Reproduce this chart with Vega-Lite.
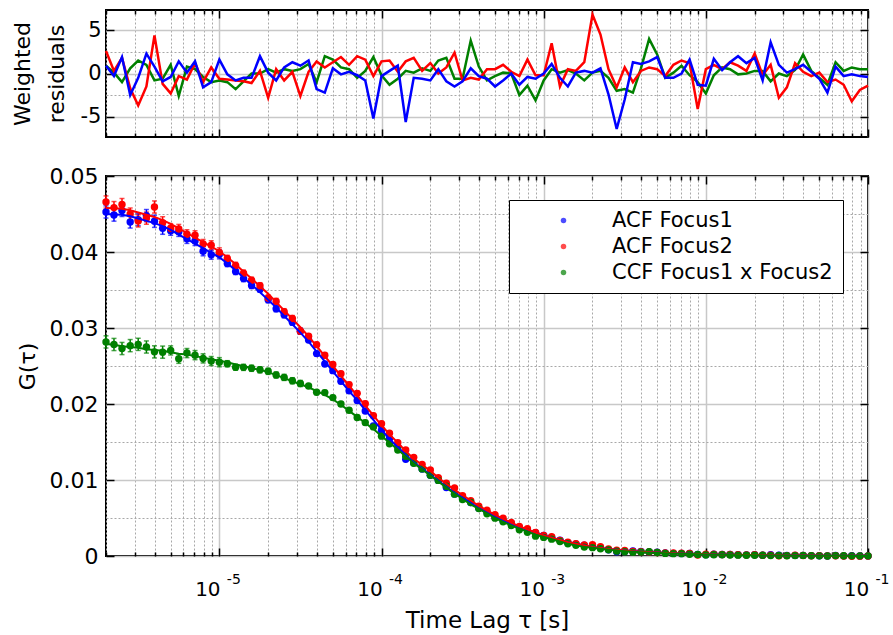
{
  "$schema": "https://vega.github.io/schema/vega-lite/v6.json",
  "padding": {"left": 10, "top": 8, "right": 5, "bottom": 0},
  "config": {
    "font": "DejaVu Sans",
    "view": {"stroke": "#000000", "strokeWidth": 2},
    "axis": {"labelFont": "DejaVu Sans", "titleFont": "DejaVu Sans", "labelColor": "#000000", "titleColor": "#000000", "titleFontWeight": "normal", "tickColor": "#000000", "tickWidth": 1.5, "domain": false, "labelOverlap": false, "labelFlush": false},
    "legend": {"labelFont": "DejaVu Sans"}
  },
  "spacing": 39,
  "bounds": "flush",
  "resolve": {"scale": {"color": "independent"}},
  "datasets": {
    "fcs": [
{"t":2e-6,"s":"A1","g":0.04527,"e":0.0008,"f":0.045,"r":0.9},
{"t":2.24e-6,"s":"A1","g":0.04486,"e":0.0008,"f":0.04495,"r":-0.3},
{"t":2.51e-6,"s":"A1","g":0.04547,"e":0.0008,"f":0.0449,"r":1.9},
{"t":2.82e-6,"s":"A1","g":0.04395,"e":0.0008,"f":0.0447,"r":-2.5},
{"t":3.16e-6,"s":"A1","g":0.04425,"e":0.0008,"f":0.0444,"r":-0.5},
{"t":3.55e-6,"s":"A1","g":0.04479,"e":0.0008,"f":0.0441,"r":2.3},
{"t":3.98e-6,"s":"A1","g":0.04404,"e":0.0008,"f":0.0438,"r":0.8},
{"t":4.47e-6,"s":"A1","g":0.04313,"e":0.0008,"f":0.0434,"r":-0.9},
{"t":5.01e-6,"s":"A1","g":0.0428,"e":0.0006,"f":0.0429,"r":-0.4},
{"t":5.62e-6,"s":"A1","g":0.04265,"e":0.0006,"f":0.0423,"r":1.4},
{"t":6.31e-6,"s":"A1","g":0.04173,"e":0.0006,"f":0.0417,"r":0.1},
{"t":7.08e-6,"s":"A1","g":0.04145,"e":0.0006,"f":0.0411,"r":1.4},
{"t":7.94e-6,"s":"A1","g":0.0401,"e":0.0006,"f":0.0405,"r":-1.6},
{"t":8.91e-6,"s":"A1","g":0.03965,"e":0.0006,"f":0.0399,"r":-1.0},
{"t":1e-5,"s":"A1","g":0.0397,"e":0.0006,"f":0.0393,"r":1.6},
{"t":1.12e-5,"s":"A1","g":0.03848,"e":0.0004,"f":0.0385,"r":-0.1},
{"t":1.26e-5,"s":"A1","g":0.03744,"e":0.0004,"f":0.0376,"r":-0.8},
{"t":1.41e-5,"s":"A1","g":0.0365,"e":0.0004,"f":0.0366,"r":-0.5},
{"t":1.58e-5,"s":"A1","g":0.0356,"e":0.0004,"f":0.0357,"r":-0.5},
{"t":1.78e-5,"s":"A1","g":0.0351,"e":0.0004,"f":0.0347,"r":2.0},
{"t":2e-5,"s":"A1","g":0.03372,"e":0.0004,"f":0.0337,"r":0.1},
{"t":2.24e-5,"s":"A1","g":0.03254,"e":0.0004,"f":0.0327,"r":-0.8},
{"t":2.51e-5,"s":"A1","g":0.03174,"e":0.0004,"f":0.0316,"r":0.7},
{"t":2.82e-5,"s":"A1","g":0.03076,"e":0.0004,"f":0.0305,"r":1.3},
{"t":3.16e-5,"s":"A1","g":0.02958,"e":0.0004,"f":0.0294,"r":0.9},
{"t":3.55e-5,"s":"A1","g":0.02843,"e":0.0003,"f":0.0282,"r":1.5},
{"t":3.98e-5,"s":"A1","g":0.02663,"e":0.0003,"f":0.0269,"r":-1.8},
{"t":4.47e-5,"s":"A1","g":0.02527,"e":0.0003,"f":0.0256,"r":-2.2},
{"t":5.01e-5,"s":"A1","g":0.02439,"e":0.0003,"f":0.0243,"r":0.6},
{"t":5.62e-5,"s":"A1","g":0.02299,"e":0.0003,"f":0.023,"r":-0.1},
{"t":6.31e-5,"s":"A1","g":0.02173,"e":0.0003,"f":0.0217,"r":0.2},
{"t":7.08e-5,"s":"A1","g":0.02047,"e":0.0003,"f":0.0205,"r":-0.2},
{"t":7.94e-5,"s":"A1","g":0.01908,"e":0.0003,"f":0.0192,"r":-0.8},
{"t":8.91e-5,"s":"A1","g":0.01712,"e":0.0003,"f":0.0179,"r":-5.2},
{"t":1e-4,"s":"A1","g":0.01656,"e":0.0003,"f":0.0166,"r":-0.3},
{"t":1.12e-4,"s":"A1","g":0.01543,"e":0.0002,"f":0.0154,"r":0.3},
{"t":1.26e-4,"s":"A1","g":0.01439,"e":0.0002,"f":0.0143,"r":0.9},
{"t":1.41e-4,"s":"A1","g":0.01274,"e":0.0002,"f":0.0133,"r":-5.6},
{"t":1.58e-4,"s":"A1","g":0.01225,"e":0.0002,"f":0.0123,"r":-0.5},
{"t":1.78e-4,"s":"A1","g":0.01144,"e":0.0002,"f":0.0115,"r":-0.6},
{"t":2e-4,"s":"A1","g":0.01062,"e":0.0002,"f":0.0107,"r":-0.8},
{"t":2.24e-4,"s":"A1","g":0.00995,"e":0.0002,"f":0.0099,"r":0.5},
{"t":2.51e-4,"s":"A1","g":0.00901,"e":0.0002,"f":0.0091,"r":-0.9},
{"t":2.82e-4,"s":"A1","g":0.00815,"e":0.0002,"f":0.0083,"r":-1.5},
{"t":3.16e-4,"s":"A1","g":0.00761,"e":0.0002,"f":0.0077,"r":-0.9},
{"t":3.55e-4,"s":"A1","g":0.00704,"e":0.00012,"f":0.007,"r":0.6},
{"t":3.98e-4,"s":"A1","g":0.00628,"e":0.00012,"f":0.0063,"r":-0.3},
{"t":4.47e-4,"s":"A1","g":0.00576,"e":0.00012,"f":0.0058,"r":-0.6},
{"t":5.01e-4,"s":"A1","g":0.00511,"e":0.00012,"f":0.0052,"r":-1.5},
{"t":5.62e-4,"s":"A1","g":0.00465,"e":0.00012,"f":0.0047,"r":-0.8},
{"t":6.31e-4,"s":"A1","g":0.0043,"e":0.00012,"f":0.0043,"r":0.0},
{"t":7.08e-4,"s":"A1","g":0.00372,"e":0.00012,"f":0.0038,"r":-1.3},
{"t":7.94e-4,"s":"A1","g":0.00338,"e":0.00012,"f":0.0034,"r":-0.4},
{"t":8.91e-4,"s":"A1","g":0.00306,"e":0.00012,"f":0.0031,"r":-0.6},
{"t":1e-3,"s":"A1","g":0.0027,"e":0.00012,"f":0.0027,"r":0.0},
{"t":1.12e-3,"s":"A1","g":0.00244,"e":0.00008,"f":0.0024,"r":1.1},
{"t":1.26e-3,"s":"A1","g":0.00208,"e":0.00008,"f":0.0021,"r":-0.5},
{"t":1.41e-3,"s":"A1","g":0.00174,"e":0.00008,"f":0.0018,"r":-1.5},
{"t":1.58e-3,"s":"A1","g":0.0016,"e":0.00008,"f":0.0016,"r":0.1},
{"t":1.78e-3,"s":"A1","g":0.00141,"e":0.00008,"f":0.0014,"r":0.3},
{"t":2e-3,"s":"A1","g":0.0012,"e":0.00008,"f":0.0012,"r":0.1},
{"t":2.24e-3,"s":"A1","g":0.00107,"e":0.00008,"f":0.00105,"r":0.6},
{"t":2.51e-3,"s":"A1","g":0.00082,"e":0.00008,"f":0.00092,"r":-2.4},
{"t":2.82e-3,"s":"A1","g":0.00055,"e":0.00008,"f":0.00081,"r":-6.4},
{"t":3.16e-3,"s":"A1","g":0.00059,"e":0.00008,"f":0.00071,"r":-3.0},
{"t":3.55e-3,"s":"A1","g":0.00067,"e":0.00006,"f":0.00063,"r":1.3},
{"t":3.98e-3,"s":"A1","g":0.00059,"e":0.00006,"f":0.00056,"r":1.1},
{"t":4.47e-3,"s":"A1","g":0.00054,"e":0.00006,"f":0.0005,"r":1.4},
{"t":5.01e-3,"s":"A1","g":0.00051,"e":0.00006,"f":0.00045,"r":1.9},
{"t":5.62e-3,"s":"A1","g":0.00039,"e":0.00006,"f":0.0004,"r":-0.5},
{"t":6.31e-3,"s":"A1","g":0.00035,"e":0.00006,"f":0.00036,"r":-0.5},
{"t":7.08e-3,"s":"A1","g":0.00032,"e":0.00006,"f":0.00032,"r":0.0},
{"t":7.94e-3,"s":"A1","g":0.00033,"e":0.00006,"f":0.00028,"r":1.6},
{"t":8.91e-3,"s":"A1","g":0.00021,"e":0.00006,"f":0.00025,"r":-1.3},
{"t":1e-2,"s":"A1","g":0.00018,"e":0.00006,"f":0.00022,"r":-1.4},
{"t":1.12e-2,"s":"A1","g":0.00023,"e":0.00004,"f":0.0002,"r":1.7},
{"t":1.26e-2,"s":"A1","g":0.00019,"e":0.00004,"f":0.00018,"r":0.4},
{"t":1.41e-2,"s":"A1","g":0.00019,"e":0.00004,"f":0.00016,"r":1.3},
{"t":1.58e-2,"s":"A1","g":0.00018,"e":0.00004,"f":0.00014,"r":2.0},
{"t":1.78e-2,"s":"A1","g":0.00015,"e":0.00004,"f":0.00013,"r":1.2},
{"t":2e-2,"s":"A1","g":0.00016,"e":0.00004,"f":0.00012,"r":1.8},
{"t":2.24e-2,"s":"A1","g":0.00009,"e":0.00004,"f":0.00011,"r":-0.8},
{"t":2.51e-2,"s":"A1","g":0.00017,"e":0.00004,"f":0.0001,"r":3.6},
{"t":2.82e-2,"s":"A1","g":0.00011,"e":0.00004,"f":0.00009,"r":1.0},
{"t":3.16e-2,"s":"A1","g":0.00008,"e":0.00004,"f":0.00008,"r":0.1},
{"t":3.55e-2,"s":"A1","g":0.00008,"e":0.00004,"f":0.00007,"r":0.5},
{"t":3.98e-2,"s":"A1","g":0.00008,"e":0.00004,"f":0.00006,"r":1.0},
{"t":4.47e-2,"s":"A1","g":0.00005,"e":0.00004,"f":0.00005,"r":0.2},
{"t":5.01e-2,"s":"A1","g":0.00004,"e":0.00004,"f":0.00005,"r":-0.6},
{"t":5.62e-2,"s":"A1","g":0.0,"e":0.00004,"f":0.00004,"r":-2.2},
{"t":6.31e-2,"s":"A1","g":0.00006,"e":0.00004,"f":0.00004,"r":0.8},
{"t":7.08e-2,"s":"A1","g":0.00002,"e":0.00004,"f":0.00003,"r":-0.3},
{"t":7.94e-2,"s":"A1","g":0.00003,"e":0.00004,"f":0.00003,"r":-0.1},
{"t":8.91e-2,"s":"A1","g":0.00001,"e":0.00004,"f":0.00002,"r":-0.3},
{"t":0.1,"s":"A1","g":0.00001,"e":0.00004,"f":0.00002,"r":-0.4},
{"t":2e-6,"s":"A2","g":0.04658,"e":0.0008,"f":0.0458,"r":2.6},
{"t":2.24e-6,"s":"A2","g":0.04584,"e":0.0008,"f":0.04575,"r":0.3},
{"t":2.51e-6,"s":"A2","g":0.04624,"e":0.0008,"f":0.0457,"r":1.8},
{"t":2.82e-6,"s":"A2","g":0.04499,"e":0.0008,"f":0.0455,"r":-1.7},
{"t":3.16e-6,"s":"A2","g":0.04409,"e":0.0008,"f":0.0452,"r":-3.7},
{"t":3.55e-6,"s":"A2","g":0.04445,"e":0.0008,"f":0.0449,"r":-1.5},
{"t":3.98e-6,"s":"A2","g":0.04592,"e":0.0008,"f":0.0446,"r":4.4},
{"t":4.47e-6,"s":"A2","g":0.04384,"e":0.0008,"f":0.0442,"r":-1.2},
{"t":5.01e-6,"s":"A2","g":0.04313,"e":0.0006,"f":0.0437,"r":-2.3},
{"t":5.62e-6,"s":"A2","g":0.04303,"e":0.0006,"f":0.0431,"r":-0.3},
{"t":6.31e-6,"s":"A2","g":0.04233,"e":0.0006,"f":0.0425,"r":-0.7},
{"t":7.08e-6,"s":"A2","g":0.0422,"e":0.0006,"f":0.0419,"r":1.2},
{"t":7.94e-6,"s":"A2","g":0.04105,"e":0.0006,"f":0.0413,"r":-1.0},
{"t":8.91e-6,"s":"A2","g":0.04088,"e":0.0006,"f":0.0407,"r":0.7},
{"t":1e-5,"s":"A2","g":0.03995,"e":0.0006,"f":0.0401,"r":-0.6},
{"t":1.12e-5,"s":"A2","g":0.03916,"e":0.0004,"f":0.0393,"r":-0.7},
{"t":1.26e-5,"s":"A2","g":0.03824,"e":0.0004,"f":0.0384,"r":-0.8},
{"t":1.41e-5,"s":"A2","g":0.03722,"e":0.0004,"f":0.0374,"r":-0.9},
{"t":1.58e-5,"s":"A2","g":0.03628,"e":0.0004,"f":0.0365,"r":-1.1},
{"t":1.78e-5,"s":"A2","g":0.03556,"e":0.0004,"f":0.0355,"r":0.3},
{"t":2e-5,"s":"A2","g":0.03394,"e":0.0004,"f":0.0345,"r":-2.8},
{"t":2.24e-5,"s":"A2","g":0.0335,"e":0.0004,"f":0.0334,"r":0.5},
{"t":2.51e-5,"s":"A2","g":0.03214,"e":0.0004,"f":0.0323,"r":-0.8},
{"t":2.82e-5,"s":"A2","g":0.03124,"e":0.0004,"f":0.0312,"r":0.2},
{"t":3.16e-5,"s":"A2","g":0.02958,"e":0.0004,"f":0.0301,"r":-2.6},
{"t":3.55e-5,"s":"A2","g":0.02893,"e":0.0003,"f":0.0289,"r":0.2},
{"t":3.98e-5,"s":"A2","g":0.02781,"e":0.0003,"f":0.0276,"r":1.4},
{"t":4.47e-5,"s":"A2","g":0.02641,"e":0.0003,"f":0.0263,"r":0.7},
{"t":5.01e-5,"s":"A2","g":0.0252,"e":0.0003,"f":0.025,"r":1.3},
{"t":5.62e-5,"s":"A2","g":0.02399,"e":0.0003,"f":0.0237,"r":1.9},
{"t":6.31e-5,"s":"A2","g":0.02255,"e":0.0003,"f":0.0224,"r":1.0},
{"t":7.08e-5,"s":"A2","g":0.0214,"e":0.0003,"f":0.0211,"r":2.0},
{"t":7.94e-5,"s":"A2","g":0.02004,"e":0.0003,"f":0.0198,"r":1.6},
{"t":8.91e-5,"s":"A2","g":0.01846,"e":0.0003,"f":0.0185,"r":-0.3},
{"t":1e-4,"s":"A2","g":0.01741,"e":0.0003,"f":0.0172,"r":1.4},
{"t":1.12e-4,"s":"A2","g":0.01615,"e":0.0002,"f":0.016,"r":1.5},
{"t":1.26e-4,"s":"A2","g":0.01492,"e":0.0002,"f":0.0149,"r":0.2},
{"t":1.41e-4,"s":"A2","g":0.01394,"e":0.0002,"f":0.0138,"r":1.4},
{"t":1.58e-4,"s":"A2","g":0.01298,"e":0.0002,"f":0.0128,"r":1.8},
{"t":1.78e-4,"s":"A2","g":0.01203,"e":0.0002,"f":0.012,"r":0.3},
{"t":2e-4,"s":"A2","g":0.01132,"e":0.0002,"f":0.0112,"r":1.2},
{"t":2.24e-4,"s":"A2","g":0.0103,"e":0.0002,"f":0.0103,"r":0.0},
{"t":2.51e-4,"s":"A2","g":0.00957,"e":0.0002,"f":0.0095,"r":0.7},
{"t":2.82e-4,"s":"A2","g":0.00894,"e":0.0002,"f":0.0087,"r":2.4},
{"t":3.16e-4,"s":"A2","g":0.00792,"e":0.0002,"f":0.008,"r":-0.8},
{"t":3.55e-4,"s":"A2","g":0.00727,"e":0.00012,"f":0.0073,"r":-0.5},
{"t":3.98e-4,"s":"A2","g":0.00656,"e":0.00012,"f":0.0066,"r":-0.7},
{"t":4.47e-4,"s":"A2","g":0.00603,"e":0.00012,"f":0.006,"r":0.5},
{"t":5.01e-4,"s":"A2","g":0.00543,"e":0.00012,"f":0.0054,"r":0.5},
{"t":5.62e-4,"s":"A2","g":0.00496,"e":0.00012,"f":0.0049,"r":1.0},
{"t":6.31e-4,"s":"A2","g":0.00441,"e":0.00012,"f":0.0044,"r":0.2},
{"t":7.08e-4,"s":"A2","g":0.00388,"e":0.00012,"f":0.0039,"r":-0.3},
{"t":7.94e-4,"s":"A2","g":0.0036,"e":0.00012,"f":0.0035,"r":1.6},
{"t":8.91e-4,"s":"A2","g":0.00309,"e":0.00012,"f":0.0031,"r":-0.2},
{"t":1e-3,"s":"A2","g":0.00269,"e":0.00012,"f":0.0027,"r":-0.2},
{"t":1.12e-3,"s":"A2","g":0.00254,"e":0.00008,"f":0.0024,"r":3.5},
{"t":1.26e-3,"s":"A2","g":0.00204,"e":0.00008,"f":0.0021,"r":-1.5},
{"t":1.41e-3,"s":"A2","g":0.00182,"e":0.00008,"f":0.0018,"r":0.5},
{"t":1.58e-3,"s":"A2","g":0.00161,"e":0.00008,"f":0.0016,"r":0.3},
{"t":1.78e-3,"s":"A2","g":0.00145,"e":0.00008,"f":0.0014,"r":1.3},
{"t":2e-3,"s":"A2","g":0.00147,"e":0.00008,"f":0.0012,"r":6.8},
{"t":2.24e-3,"s":"A2","g":0.00123,"e":0.00008,"f":0.00105,"r":4.5},
{"t":2.51e-3,"s":"A2","g":0.00094,"e":0.00008,"f":0.00092,"r":0.5},
{"t":2.82e-3,"s":"A2","g":0.00075,"e":0.00008,"f":0.00081,"r":-1.6},
{"t":3.16e-3,"s":"A2","g":0.00074,"e":0.00008,"f":0.00071,"r":0.7},
{"t":3.55e-3,"s":"A2","g":0.0006,"e":0.00006,"f":0.00063,"r":-1.0},
{"t":3.98e-3,"s":"A2","g":0.00057,"e":0.00006,"f":0.00056,"r":0.3},
{"t":4.47e-3,"s":"A2","g":0.00052,"e":0.00006,"f":0.0005,"r":0.7},
{"t":5.01e-3,"s":"A2","g":0.00047,"e":0.00006,"f":0.00045,"r":0.5},
{"t":5.62e-3,"s":"A2","g":0.00039,"e":0.00006,"f":0.0004,"r":-0.3},
{"t":6.31e-3,"s":"A2","g":0.00039,"e":0.00006,"f":0.00036,"r":1.0},
{"t":7.08e-3,"s":"A2","g":0.00037,"e":0.00006,"f":0.00032,"r":1.5},
{"t":7.94e-3,"s":"A2","g":0.00032,"e":0.00006,"f":0.00028,"r":1.2},
{"t":8.91e-3,"s":"A2","g":0.00013,"e":0.00006,"f":0.00025,"r":-4.1},
{"t":1e-2,"s":"A2","g":0.00024,"e":0.00006,"f":0.00022,"r":0.5},
{"t":1.12e-2,"s":"A2","g":0.00022,"e":0.00004,"f":0.0002,"r":1.0},
{"t":1.26e-2,"s":"A2","g":0.00019,"e":0.00004,"f":0.00018,"r":0.5},
{"t":1.41e-2,"s":"A2","g":0.00019,"e":0.00004,"f":0.00016,"r":1.3},
{"t":1.58e-2,"s":"A2","g":0.00016,"e":0.00004,"f":0.00014,"r":0.9},
{"t":1.78e-2,"s":"A2","g":0.00014,"e":0.00004,"f":0.00013,"r":0.3},
{"t":2e-2,"s":"A2","g":0.00017,"e":0.00004,"f":0.00012,"r":2.3},
{"t":2.24e-2,"s":"A2","g":0.00011,"e":0.00004,"f":0.00011,"r":-0.2},
{"t":2.51e-2,"s":"A2","g":0.00012,"e":0.00004,"f":0.0001,"r":1.0},
{"t":2.82e-2,"s":"A2","g":0.00003,"e":0.00004,"f":0.00009,"r":-2.8},
{"t":3.16e-2,"s":"A2","g":0.00005,"e":0.00004,"f":0.00008,"r":-1.6},
{"t":3.55e-2,"s":"A2","g":0.00009,"e":0.00004,"f":0.00007,"r":1.2},
{"t":3.98e-2,"s":"A2","g":0.00006,"e":0.00004,"f":0.00006,"r":0.2},
{"t":4.47e-2,"s":"A2","g":0.00004,"e":0.00004,"f":0.00005,"r":-0.3},
{"t":5.01e-2,"s":"A2","g":0.00005,"e":0.00004,"f":0.00005,"r":0.1},
{"t":5.62e-2,"s":"A2","g":0.00002,"e":0.00004,"f":0.00004,"r":-1.0},
{"t":6.31e-2,"s":"A2","g":0.00003,"e":0.00004,"f":0.00004,"r":-0.7},
{"t":7.08e-2,"s":"A2","g":0.0,"e":0.00004,"f":0.00003,"r":-1.3},
{"t":7.94e-2,"s":"A2","g":-0.00003,"e":0.00004,"f":0.00003,"r":-3.2},
{"t":8.91e-2,"s":"A2","g":-0.00002,"e":0.00004,"f":0.00002,"r":-1.9},
{"t":0.1,"s":"A2","g":-0.00001,"e":0.00004,"f":0.00002,"r":-1.4},
{"t":2e-6,"s":"C","g":0.02817,"e":0.0008,"f":0.0279,"r":0.9},
{"t":2.24e-6,"s":"C","g":0.02783,"e":0.0008,"f":0.0278,"r":0.1},
{"t":2.51e-6,"s":"C","g":0.0273,"e":0.0008,"f":0.0276,"r":-1.0},
{"t":2.82e-6,"s":"C","g":0.02768,"e":0.0008,"f":0.0275,"r":0.6},
{"t":3.16e-6,"s":"C","g":0.02785,"e":0.0008,"f":0.0274,"r":1.5},
{"t":3.55e-6,"s":"C","g":0.0275,"e":0.0008,"f":0.0272,"r":1.0},
{"t":3.98e-6,"s":"C","g":0.02686,"e":0.0008,"f":0.0271,"r":-0.8},
{"t":4.47e-6,"s":"C","g":0.02682,"e":0.0008,"f":0.027,"r":-0.6},
{"t":5.01e-6,"s":"C","g":0.02705,"e":0.0006,"f":0.0268,"r":1.0},
{"t":5.62e-6,"s":"C","g":0.02595,"e":0.0006,"f":0.0266,"r":-2.6},
{"t":6.31e-6,"s":"C","g":0.0267,"e":0.0006,"f":0.0265,"r":0.8},
{"t":7.08e-6,"s":"C","g":0.02643,"e":0.0006,"f":0.0263,"r":0.5},
{"t":7.94e-6,"s":"C","g":0.026,"e":0.0006,"f":0.0261,"r":-0.4},
{"t":8.91e-6,"s":"C","g":0.02565,"e":0.0006,"f":0.0259,"r":-1.0},
{"t":1e-5,"s":"C","g":0.0255,"e":0.0006,"f":0.0257,"r":-0.8},
{"t":1.12e-5,"s":"C","g":0.0253,"e":0.0004,"f":0.0255,"r":-1.0},
{"t":1.26e-5,"s":"C","g":0.02484,"e":0.0004,"f":0.0252,"r":-1.8},
{"t":1.41e-5,"s":"C","g":0.02482,"e":0.0004,"f":0.025,"r":-0.9},
{"t":1.58e-5,"s":"C","g":0.0247,"e":0.0004,"f":0.0247,"r":0.0},
{"t":1.78e-5,"s":"C","g":0.0245,"e":0.0004,"f":0.0245,"r":0.0},
{"t":2e-5,"s":"C","g":0.0243,"e":0.0004,"f":0.0242,"r":0.5},
{"t":2.24e-5,"s":"C","g":0.02382,"e":0.0004,"f":0.0238,"r":0.1},
{"t":2.51e-5,"s":"C","g":0.0235,"e":0.0004,"f":0.0234,"r":0.5},
{"t":2.82e-5,"s":"C","g":0.02306,"e":0.0004,"f":0.023,"r":0.3},
{"t":3.16e-5,"s":"C","g":0.0227,"e":0.0004,"f":0.0226,"r":0.5},
{"t":3.55e-5,"s":"C","g":0.02237,"e":0.0003,"f":0.0222,"r":1.1},
{"t":3.98e-5,"s":"C","g":0.02155,"e":0.0003,"f":0.0217,"r":-1.0},
{"t":4.47e-5,"s":"C","g":0.0215,"e":0.0003,"f":0.0212,"r":2.0},
{"t":5.01e-5,"s":"C","g":0.02084,"e":0.0003,"f":0.0206,"r":1.6},
{"t":5.62e-5,"s":"C","g":0.02001,"e":0.0003,"f":0.0199,"r":0.7},
{"t":6.31e-5,"s":"C","g":0.01918,"e":0.0003,"f":0.0191,"r":0.5},
{"t":7.08e-5,"s":"C","g":0.01823,"e":0.0003,"f":0.0183,"r":-0.5},
{"t":7.94e-5,"s":"C","g":0.01755,"e":0.0003,"f":0.0175,"r":0.3},
{"t":8.91e-5,"s":"C","g":0.01699,"e":0.0003,"f":0.0167,"r":1.9},
{"t":1e-4,"s":"C","g":0.01577,"e":0.0003,"f":0.0158,"r":-0.2},
{"t":1.12e-4,"s":"C","g":0.01477,"e":0.0002,"f":0.0149,"r":-1.3},
{"t":1.26e-4,"s":"C","g":0.01394,"e":0.0002,"f":0.014,"r":-0.6},
{"t":1.41e-4,"s":"C","g":0.01313,"e":0.0002,"f":0.0131,"r":0.3},
{"t":1.58e-4,"s":"C","g":0.01221,"e":0.0002,"f":0.0122,"r":0.1},
{"t":1.78e-4,"s":"C","g":0.01146,"e":0.0002,"f":0.0114,"r":0.6},
{"t":2e-4,"s":"C","g":0.01063,"e":0.0002,"f":0.0106,"r":0.3},
{"t":2.24e-4,"s":"C","g":0.00995,"e":0.0002,"f":0.0098,"r":1.5},
{"t":2.51e-4,"s":"C","g":0.00918,"e":0.0002,"f":0.009,"r":1.8},
{"t":2.82e-4,"s":"C","g":0.00814,"e":0.0002,"f":0.0082,"r":-0.6},
{"t":3.16e-4,"s":"C","g":0.00744,"e":0.0002,"f":0.0075,"r":-0.6},
{"t":3.55e-4,"s":"C","g":0.00703,"e":0.00012,"f":0.0068,"r":3.8},
{"t":3.98e-4,"s":"C","g":0.00625,"e":0.00012,"f":0.0062,"r":0.8},
{"t":4.47e-4,"s":"C","g":0.00555,"e":0.00012,"f":0.0056,"r":-0.8},
{"t":5.01e-4,"s":"C","g":0.00498,"e":0.00012,"f":0.005,"r":-0.3},
{"t":5.62e-4,"s":"C","g":0.00451,"e":0.00012,"f":0.0045,"r":0.1},
{"t":6.31e-4,"s":"C","g":0.004,"e":0.00012,"f":0.004,"r":0.0},
{"t":7.08e-4,"s":"C","g":0.00345,"e":0.00012,"f":0.0036,"r":-2.5},
{"t":7.94e-4,"s":"C","g":0.00312,"e":0.00012,"f":0.0032,"r":-1.4},
{"t":8.91e-4,"s":"C","g":0.00261,"e":0.00012,"f":0.0028,"r":-3.1},
{"t":1e-3,"s":"C","g":0.00245,"e":0.00012,"f":0.0025,"r":-0.8},
{"t":1.12e-3,"s":"C","g":0.00222,"e":0.00008,"f":0.0022,"r":0.5},
{"t":1.26e-3,"s":"C","g":0.0019,"e":0.00008,"f":0.0019,"r":0.1},
{"t":1.41e-3,"s":"C","g":0.00162,"e":0.00008,"f":0.0016,"r":0.4},
{"t":1.58e-3,"s":"C","g":0.0014,"e":0.00008,"f":0.0014,"r":0.0},
{"t":1.78e-3,"s":"C","g":0.00117,"e":0.00008,"f":0.0012,"r":-0.8},
{"t":2e-3,"s":"C","g":0.0011,"e":0.00008,"f":0.0011,"r":0.1},
{"t":2.24e-3,"s":"C","g":0.00096,"e":0.00008,"f":0.00095,"r":0.3},
{"t":2.51e-3,"s":"C","g":0.00081,"e":0.00008,"f":0.00083,"r":-0.5},
{"t":2.82e-3,"s":"C","g":0.00064,"e":0.00008,"f":0.00072,"r":-2.0},
{"t":3.16e-3,"s":"C","g":0.00056,"e":0.00008,"f":0.00063,"r":-1.8},
{"t":3.55e-3,"s":"C","g":0.00048,"e":0.00006,"f":0.00055,"r":-2.2},
{"t":3.98e-3,"s":"C","g":0.00051,"e":0.00006,"f":0.00049,"r":0.6},
{"t":4.47e-3,"s":"C","g":0.00056,"e":0.00006,"f":0.00044,"r":4.0},
{"t":5.01e-3,"s":"C","g":0.00047,"e":0.00006,"f":0.0004,"r":2.2},
{"t":5.62e-3,"s":"C","g":0.00034,"e":0.00006,"f":0.00035,"r":-0.5},
{"t":6.31e-3,"s":"C","g":0.00031,"e":0.00006,"f":0.00031,"r":0.1},
{"t":7.08e-3,"s":"C","g":0.00031,"e":0.00006,"f":0.00028,"r":0.9},
{"t":7.94e-3,"s":"C","g":0.00024,"e":0.00006,"f":0.00025,"r":-0.2},
{"t":8.91e-3,"s":"C","g":0.00019,"e":0.00006,"f":0.00022,"r":-1.0},
{"t":1e-2,"s":"C","g":0.00013,"e":0.00006,"f":0.0002,"r":-2.3},
{"t":1.12e-2,"s":"C","g":0.00017,"e":0.00004,"f":0.00017,"r":-0.2},
{"t":1.26e-2,"s":"C","g":0.00016,"e":0.00004,"f":0.00015,"r":0.7},
{"t":1.41e-2,"s":"C","g":0.00014,"e":0.00004,"f":0.00013,"r":0.5},
{"t":1.58e-2,"s":"C","g":0.00011,"e":0.00004,"f":0.00011,"r":-0.1},
{"t":1.78e-2,"s":"C","g":0.0001,"e":0.00004,"f":0.0001,"r":0.0},
{"t":2e-2,"s":"C","g":0.0001,"e":0.00004,"f":0.00009,"r":0.3},
{"t":2.24e-2,"s":"C","g":0.00009,"e":0.00004,"f":0.00008,"r":0.3},
{"t":2.51e-2,"s":"C","g":0.00005,"e":0.00004,"f":0.00007,"r":-0.9},
{"t":2.82e-2,"s":"C","g":0.00006,"e":0.00004,"f":0.00006,"r":0.0},
{"t":3.16e-2,"s":"C","g":0.00004,"e":0.00004,"f":0.00005,"r":-0.3},
{"t":3.55e-2,"s":"C","g":0.00005,"e":0.00004,"f":0.00004,"r":0.4},
{"t":3.98e-2,"s":"C","g":0.00008,"e":0.00004,"f":0.00004,"r":2.2},
{"t":4.47e-2,"s":"C","g":0.00004,"e":0.00004,"f":0.00003,"r":0.3},
{"t":5.01e-2,"s":"C","g":0.00002,"e":0.00004,"f":0.00003,"r":-0.5},
{"t":5.62e-2,"s":"C","g":-0.00001,"e":0.00004,"f":0.00002,"r":-1.3},
{"t":6.31e-2,"s":"C","g":0.00005,"e":0.00004,"f":0.00002,"r":1.3},
{"t":7.08e-2,"s":"C","g":0.00003,"e":0.00004,"f":0.00002,"r":0.3},
{"t":7.94e-2,"s":"C","g":0.00002,"e":0.00004,"f":0.00001,"r":0.7},
{"t":8.91e-2,"s":"C","g":0.00002,"e":0.00004,"f":0.00001,"r":0.5},
{"t":0.1,"s":"C","g":0.00002,"e":0.00004,"f":0.00001,"r":0.5}
    ]
  },
  "vconcat": [
    {
      "width": 762,
      "height": 127,
      "data": {"name": "fcs"},
      "layer": [
        {
          "transform": [{"filter": "datum.s == 'C'"}],
          "mark": {"type": "line", "strokeWidth": 2.5, "color": "#008000"},
          "encoding": {
            "x": {"field": "t", "type": "quantitative", "scale": {"type": "log", "domain": [2e-6, 0.1], "nice": false},
              "axis": {"orient": "bottom", "values": [2e-6,3e-6,4e-6,5e-6,6e-6,7e-6,8e-6,9e-6,1e-5,2e-5,3e-5,4e-5,5e-5,6e-5,7e-5,8e-5,9e-5,1e-4,2e-4,3e-4,4e-4,5e-4,6e-4,7e-4,8e-4,9e-4,1e-3,2e-3,3e-3,4e-3,5e-3,6e-3,7e-3,8e-3,9e-3,0.01,0.02,0.03,0.04,0.05,0.06,0.07,0.08,0.09,0.1],
                "grid": true,
                "gridColor": {"condition": {"test": "abs(log(datum.value)/LN10 - round(log(datum.value)/LN10)) < 0.001", "value": "#c8c8c8"}, "value": "#a8a8a8"},
                "gridDash": {"condition": {"test": "abs(log(datum.value)/LN10 - round(log(datum.value)/LN10)) < 0.001", "value": []}, "value": [2, 2]},
                "gridWidth": {"condition": {"test": "abs(log(datum.value)/LN10 - round(log(datum.value)/LN10)) < 0.001", "value": 1.5}, "value": 1},
                "ticks": true,
                "tickSize": {"condition": {"test": "abs(log(datum.value)/LN10 - round(log(datum.value)/LN10)) < 0.001", "value": -8}, "value": -4},
                "labels": false, "title": null}},
            "y": {"field": "r", "type": "quantitative", "scale": {"domain": [-7.33, 7.33], "nice": false, "zero": false},
              "axis": {"orient": "left", "values": [-5, -2.5, 0, 2.5, 5],
                "grid": true,
                "gridColor": {"condition": {"test": "datum.value % 5 == 0", "value": "#c8c8c8"}, "value": "#a8a8a8"},
                "gridDash": {"condition": {"test": "datum.value % 5 == 0", "value": []}, "value": [2, 2]},
                "gridWidth": {"condition": {"test": "datum.value % 5 == 0", "value": 1.5}, "value": 1},
                "tickSize": {"condition": {"test": "datum.value % 5 == 0", "value": -8}, "value": 0},
                "labelExpr": "datum.value % 5 == 0 ? '' + datum.value : ''",
                "labelFontSize": 21, "labelPadding": 13,
                "title": ["Weighted", "residuals"], "titleFontSize": 22, "titleLineHeight": 34, "titlePadding": 12}}
          }
        },
        {
          "transform": [{"filter": "datum.s == 'A2'"}],
          "mark": {"type": "line", "strokeWidth": 2.5, "color": "#ff0000"},
          "encoding": {
            "x": {"field": "t", "type": "quantitative", "scale": {"type": "log", "domain": [2e-6, 0.1], "nice": false},
              "axis": {"orient": "top", "values": [2e-6,3e-6,4e-6,5e-6,6e-6,7e-6,8e-6,9e-6,1e-5,2e-5,3e-5,4e-5,5e-5,6e-5,7e-5,8e-5,9e-5,1e-4,2e-4,3e-4,4e-4,5e-4,6e-4,7e-4,8e-4,9e-4,1e-3,2e-3,3e-3,4e-3,5e-3,6e-3,7e-3,8e-3,9e-3,0.01,0.02,0.03,0.04,0.05,0.06,0.07,0.08,0.09,0.1],
                "grid": false, "labels": false, "title": null,
                "tickSize": {"condition": {"test": "abs(log(datum.value)/LN10 - round(log(datum.value)/LN10)) < 0.001", "value": -8}, "value": -4}}},
            "y": {"field": "r", "type": "quantitative", "scale": {"domain": [-7.33, 7.33], "nice": false, "zero": false},
              "axis": {"orient": "right", "values": [-5, 0, 5], "grid": false, "labels": false, "title": null, "tickSize": -8}}
          }
        },
        {
          "transform": [{"filter": "datum.s == 'A1'"}],
          "mark": {"type": "line", "strokeWidth": 2.5, "color": "#0000ff"},
          "encoding": {
            "x": {"field": "t", "type": "quantitative", "scale": {"type": "log", "domain": [2e-6, 0.1], "nice": false}, "axis": null},
            "y": {"field": "r", "type": "quantitative", "scale": {"domain": [-7.33, 7.33], "nice": false, "zero": false}, "axis": null}
          }
        }
      ],
      "resolve": {"axis": {"x": "independent", "y": "independent"}}
    },
    {
      "width": 762,
      "height": 380,
      "data": {"name": "fcs"},
      "layer": [
        {
          "mark": {"type": "errorbar", "ticks": {"size": 5, "thickness": 1.5}, "thickness": 1.5},
          "encoding": {
            "x": {"field": "t", "type": "quantitative", "scale": {"type": "log", "domain": [2e-6, 0.1], "nice": false},
              "axis": {"orient": "top", "values": [2e-6,3e-6,4e-6,5e-6,6e-6,7e-6,8e-6,9e-6,1e-5,2e-5,3e-5,4e-5,5e-5,6e-5,7e-5,8e-5,9e-5,1e-4,2e-4,3e-4,4e-4,5e-4,6e-4,7e-4,8e-4,9e-4,1e-3,2e-3,3e-3,4e-3,5e-3,6e-3,7e-3,8e-3,9e-3,0.01,0.02,0.03,0.04,0.05,0.06,0.07,0.08,0.09,0.1],
                "grid": false, "labels": false, "title": null,
                "tickSize": {"condition": {"test": "abs(log(datum.value)/LN10 - round(log(datum.value)/LN10)) < 0.001", "value": -8}, "value": -4}}},
            "y": {"field": "g", "type": "quantitative", "scale": {"domain": [0, 0.05], "nice": false, "zero": false}, "axis": null},
            "yError": {"field": "e"},
            "color": {"field": "s", "type": "nominal", "scale": {"domain": ["A1", "A2", "C"], "range": ["#0000ff", "#ff0000", "#008000"]}}
          }
        },
        {
          "mark": {"type": "circle", "size": 55, "opacity": 1},
          "encoding": {
            "x": {"field": "t", "type": "quantitative", "scale": {"type": "log", "domain": [2e-6, 0.1], "nice": false},
              "axis": {"orient": "bottom", "values": [2e-6,3e-6,4e-6,5e-6,6e-6,7e-6,8e-6,9e-6,1e-5,2e-5,3e-5,4e-5,5e-5,6e-5,7e-5,8e-5,9e-5,1e-4,2e-4,3e-4,4e-4,5e-4,6e-4,7e-4,8e-4,9e-4,1e-3,2e-3,3e-3,4e-3,5e-3,6e-3,7e-3,8e-3,9e-3,0.01,0.02,0.03,0.04,0.05,0.06,0.07,0.08,0.09,0.1],
                "grid": true,
                "gridColor": {"condition": {"test": "abs(log(datum.value)/LN10 - round(log(datum.value)/LN10)) < 0.001", "value": "#c8c8c8"}, "value": "#a8a8a8"},
                "gridDash": {"condition": {"test": "abs(log(datum.value)/LN10 - round(log(datum.value)/LN10)) < 0.001", "value": []}, "value": [2, 2]},
                "gridWidth": {"condition": {"test": "abs(log(datum.value)/LN10 - round(log(datum.value)/LN10)) < 0.001", "value": 1.5}, "value": 1},
                "tickSize": {"condition": {"test": "abs(log(datum.value)/LN10 - round(log(datum.value)/LN10)) < 0.001", "value": -8}, "value": -4},
                "labelExpr": "abs(log(datum.value)/LN10 - round(log(datum.value)/LN10)) < 0.001 ? '10' : ''",
                "labelFontSize": 20, "labelPadding": 31, "labelOffset": -12,
                "title": "Time Lag τ [s]", "titleFontSize": 23, "titlePadding": 6}},
            "y": {"field": "g", "type": "quantitative", "scale": {"domain": [0, 0.05], "nice": false, "zero": false},
              "axis": {"orient": "left", "values": [0, 0.005, 0.01, 0.015, 0.02, 0.025, 0.03, 0.035, 0.04, 0.045, 0.05],
                "grid": true,
                "gridColor": {"condition": {"test": "abs(datum.value*100 - round(datum.value*100)) < 0.01", "value": "#c8c8c8"}, "value": "#a8a8a8"},
                "gridDash": {"condition": {"test": "abs(datum.value*100 - round(datum.value*100)) < 0.01", "value": []}, "value": [2, 2]},
                "gridWidth": {"condition": {"test": "abs(datum.value*100 - round(datum.value*100)) < 0.01", "value": 1.5}, "value": 1},
                "tickSize": {"condition": {"test": "abs(datum.value*100 - round(datum.value*100)) < 0.01", "value": -8}, "value": 0},
                "labelExpr": "abs(datum.value*100 - round(datum.value*100)) < 0.01 ? '' + datum.value : ''",
                "labelFontSize": 22, "labelPadding": 16,
                "title": "G(τ)", "titleFontSize": 22, "titlePadding": 10}},
            "color": {"field": "s", "type": "nominal", "scale": {"domain": ["A1", "A2", "C"], "range": ["#0000ff", "#ff0000", "#008000"]},
              "legend": {"orient": "none", "legendX": 403, "legendY": 24, "title": null, "symbolType": "circle", "symbolSize": 30, "symbolStrokeWidth": 0, "symbolOpacity": 1,
                "labelFontSize": 21, "labelFont": "DejaVu Sans", "labelColor": "#000000", "strokeColor": "#000000", "fillColor": "#ffffff",
                "padding": 10, "symbolOffset": 34, "labelOffset": 38, "rowPadding": 4, "labelLimit": 400,
                "labelExpr": "datum.label == 'A1' ? 'ACF Focus1' : datum.label == 'A2' ? 'ACF Focus2' : 'CCF Focus1 x Focus2'"}}
          }
        },
        {
          "mark": {"type": "line", "strokeWidth": 2},
          "encoding": {
            "x": {"field": "t", "type": "quantitative", "scale": {"type": "log", "domain": [2e-6, 0.1], "nice": false},
              "axis": {"orient": "bottom", "values": [1e-5, 1e-4, 1e-3, 0.01, 0.1], "grid": false, "ticks": false, "title": null,
                "labelExpr": "'-' + round(-log(datum.value)/LN10)", "labelFontSize": 14, "labelPadding": 16, "labelOffset": 14}},
            "y": {"field": "f", "type": "quantitative", "scale": {"domain": [0, 0.05], "nice": false, "zero": false},
              "axis": {"orient": "right", "values": [0, 0.01, 0.02, 0.03, 0.04, 0.05], "grid": false, "labels": false, "title": null, "tickSize": -8}},
            "color": {"field": "s", "type": "nominal", "scale": {"domain": ["A1", "A2", "C"], "range": ["#0000ff", "#ff0000", "#008000"]}}
          }
        }
      ],
      "resolve": {"axis": {"x": "independent", "y": "independent"}}
    }
  ]
}
